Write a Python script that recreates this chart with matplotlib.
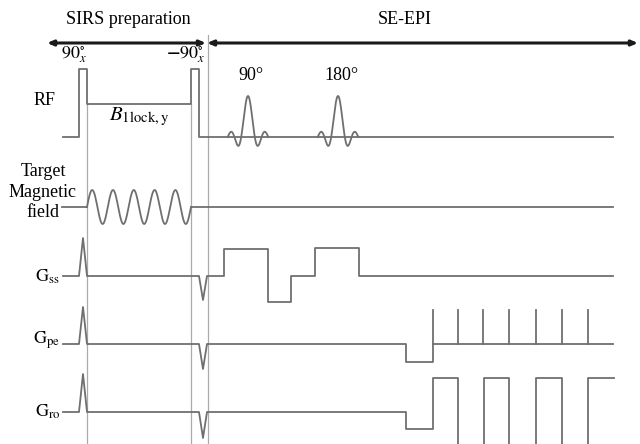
import numpy as np
import matplotlib
matplotlib.use("Agg")
import matplotlib.pyplot as plt

plt.rcParams["font.family"] = ["Liberation Serif", "DejaVu Serif"]
plt.rcParams["mathtext.fontset"] = "stix"

# waveform breakpoints, picture coordinates (x = time, y = level, y grows downward)
rf_x = [63, 79, 79, 87, 87, 191, 191, 199, 199, 613]
rf_y = [137, 137, 69, 69, 104, 104, 69, 69, 137, 137]
sinc_centres = [248, 338]
sinc_labels = ["90°", "180°"]

field_start, field_end, field_cycles = 87, 191, 5

gss_x = [63, 79, 83, 87, 199, 203, 207, 224, 224, 268, 268, 291, 291, 315, 315, 359, 359, 613]
gss_y = [276, 276, 238, 276, 276, 300, 276, 276, 249, 249, 302, 302, 276, 276, 248, 248, 276, 276]

gpe_x = [63, 79, 83, 87, 199, 203, 207, 406, 406, 433, 433, 613]
gpe_y = [344, 344, 307, 344, 344, 369, 344, 344, 362, 362, 344, 344]
gpe_blips = [433, 458, 483, 509, 536, 562, 588]

gro_x = [63, 79, 83, 87, 199, 203, 207, 406, 406, 433, 433, 458, 458, 484, 484,
         509, 509, 536, 536, 562, 562, 588, 588, 614]
gro_y = [412, 412, 374, 412, 412, 438, 412, 412, 429, 429, 378, 378, 470, 470, 378,
         378, 470, 470, 378, 378, 470, 470, 378, 378]

wave = "#6f6f6f"
guide = "#aaaaaa"


def main():
    fig = plt.figure(figsize=(6.4, 4.44), dpi=100)
    ax = fig.add_axes([0, 0, 1, 1])
    ax.set_xlim(0, 640)
    ax.set_ylim(444, 0)
    ax.axis("off")

    # guide lines
    ax.plot([87, 87], [104, 450], color=guide, lw=0.9)
    ax.plot([191, 191], [104, 450], color=guide, lw=0.9)
    ax.plot([208, 208], [35, 450], color=guide, lw=0.9)

    # top arrows
    arrow = dict(arrowstyle="<|-|>,head_length=0.35,head_width=0.15", color="#1a1a1a", lw=2.2,
                 shrinkA=0, shrinkB=0)
    ax.annotate("", xy=(47, 43), xytext=(206, 43), arrowprops=arrow)
    ax.annotate("", xy=(207, 43), xytext=(638, 43), arrowprops=arrow)
    ax.text(128, 20, "SIRS preparation", fontsize=13, ha="center", va="center")
    ax.text(405, 20, "SE-EPI", fontsize=13, ha="center", va="center")

    # RF
    ax.plot(rf_x, rf_y, color=wave, lw=1.3)
    for c, lab in zip(sinc_centres, sinc_labels):
        t = np.linspace(-3, 3, 200)
        ax.plot(c + t * 6.8, 137 - 41 * np.sinc(t), color=wave, lw=1.3)
        ax.text(c + 3, 75, lab, fontsize=13, ha="center", va="center")
    ax.text(74, 55, r"$90^{\circ}_{x}$", fontsize=13, ha="center", va="center")
    ax.text(186, 55, r"$\mathbf{-}90^{\circ}_{x}$", fontsize=13, ha="center", va="center")
    ax.text(139, 117, r"$B_{\mathrm{1lock,y}}$", fontsize=15, ha="center", va="center")

    # target magnetic field
    xs = np.linspace(field_start, field_end, 400)
    ys = 207 - 17 * np.sin(2 * np.pi * field_cycles * (xs - field_start) / (field_end - field_start))
    ax.plot([62, field_start], [207, 207], color=wave, lw=1.3)
    ax.plot(xs, ys, color=wave, lw=1.3)
    ax.plot([field_end, 613], [207, 207], color=wave, lw=1.3)

    # gradients
    ax.plot(gss_x, gss_y, color=wave, lw=1.3)
    ax.plot(gpe_x, gpe_y, color=wave, lw=1.3)
    for b in gpe_blips:
        ax.plot([b, b], [344, 310], color=wave, lw=1.3)
    ax.plot(gro_x, gro_y, color=wave, lw=1.3)

    # channel labels
    lab = dict(fontsize=13, ha="right", va="center")
    ax.text(56, 100, "RF", **lab)
    ax.text(43, 192, "Target\nMagnetic\nfield", fontsize=13, ha="center", va="center",
            linespacing=1.3)
    ax.text(60, 277, r"$\mathrm{G_{ss}}$", **lab)
    ax.text(60, 340, r"$\mathrm{G_{pe}}$", **lab)
    ax.text(60, 412, r"$\mathrm{G_{ro}}$", **lab)

    fig.savefig("out.png", dpi=100)
    plt.close(fig)


if __name__ == "__main__":
    main()
